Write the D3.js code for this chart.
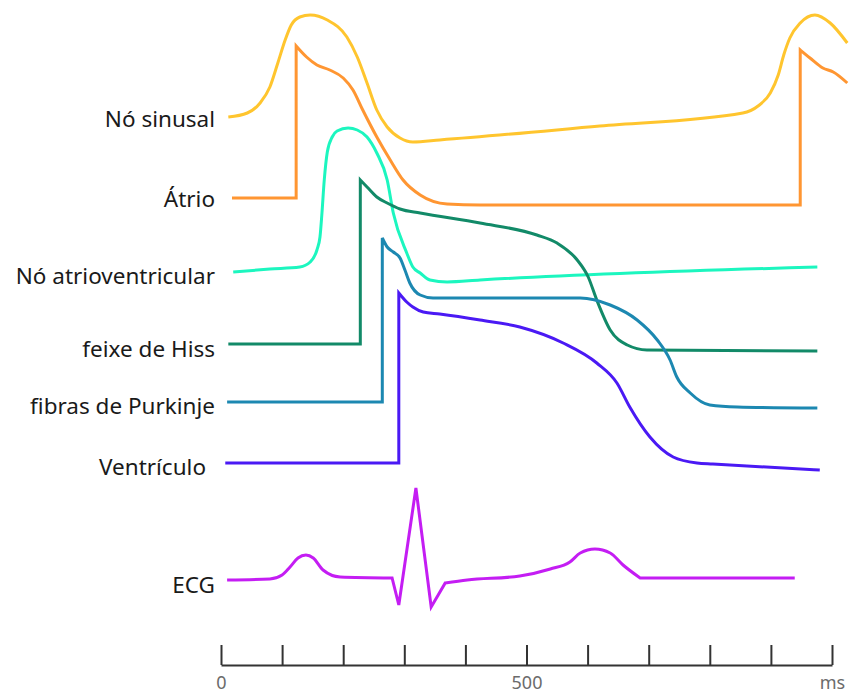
<!DOCTYPE html>
<html>
<head>
<meta charset="utf-8">
<script src="https://cdn.jsdelivr.net/npm/d3@7"></script>
<style>
  body { margin: 0; background: #fff; }
  .trace-label { font-family: 'Noto Sans', sans-serif; font-size: 22.5px; fill: #1a1a1a; }
  .time-axis text { font-family: 'Noto Sans', sans-serif; font-size: 18px; fill: #6b6b6b; }
  .time-axis path, .time-axis line { stroke: #333; stroke-width: 2; }
</style>
</head>
<body>
<svg id="chart"></svg>
<script>
// time in ms, level in arbitrary units (each trace sits on its own band)
const sinusal = [[12, 54.8], [43, 55.2], [64, 56.2], [80, 57.8], [93, 60.2], [105, 62.5], [115, 64], [129, 64.8],
  [146, 65], [174, 64.5], [206, 62.8], [223, 60.8], [239, 58.2], [255, 55.5], [272, 53.8], [293, 52.7], [314, 52.3],
  [358, 52.5], [620, 53.9], [854, 55.2], [879, 55.9], [899, 57.2], [912, 59], [921, 61], [931, 62.7], [948, 64.2],
  [972, 65], [997, 64.2], [1025, 62.2]];
const atrio = [[18, 46.7], [123, 46.7], [123, 61.9], [140, 60.8], [157, 60], [178, 59.5], [200, 58.7], [216, 57.5],
  [232, 55.5], [255, 52.8], [277, 50.5], [298, 48.5], [326, 47], [370, 46.1], [424, 46], [948, 46], [948, 61.5],
  [964, 60.7], [985, 59.7], [1002, 59.3], [1025, 58.2]];
const noAV = [[20, 39.3], [80, 39.6], [129, 39.8], [146, 40.3], [157, 41.5], [162, 42.8], [165, 45], [169, 48.5],
  [174, 51.3], [182, 52.8], [190, 53.4], [208, 53.7], [223, 53.5], [239, 52.8], [255, 51.2], [272, 48.5], [282, 45.2],
  [304, 41.2], [314, 39.8], [326, 39.2], [342, 38.5], [370, 38.3], [424, 38.5], [976, 39.8]];
const hiss = [[12, 32.1], [228, 32.1], [228, 48.5], [239, 47.8], [255, 46.8], [272, 46.2], [293, 45.6], [326, 45.2],
  [424, 44.2], [517, 43], [550, 42.2], [583, 40.5], [601, 38.8], [615, 36.5], [637, 33.5], [665, 32], [697, 31.5],
  [976, 31.4]];
const purkinje = [[10, 26.3], [264, 26.3], [264, 42.7], [272, 41.8], [282, 41.3], [293, 40.7], [301, 39.5], [309, 38.2],
  [326, 37], [347, 36.7], [588, 36.7], [637, 36], [681, 34.5], [714, 32.5], [735, 30.5], [746, 28.8], [768, 27.2],
  [800, 26], [845, 25.8], [976, 25.7]];
const ventriculo = [[7, 20.2], [291, 20.2], [291, 37.2], [304, 36.3], [314, 35.8], [331, 35.3], [358, 35.1], [424, 34.5],
  [489, 33.8], [560, 32.2], [615, 30.2], [648, 28.2], [669, 25.8], [702, 22.8], [740, 20.8], [779, 20.2], [805, 20.1],
  [980, 19.5]];
const ecg = [[10, 8.5], [80, 8.6], [100, 9], [113, 9.8], [126, 10.7], [139, 11], [151, 10.7], [167, 9.5], [195, 8.8],
  [280, 8.7], [291, 6], [319, 17.7], [344, 5.8], [367, 8.2], [403, 8.5], [489, 8.9], [539, 9.6], [571, 10.3],
  [588, 11.2], [612, 11.6], [637, 11.2], [658, 10], [686, 8.7], [939, 8.7]];

const traceNames = ['Nó sinusal', 'Átrio', 'Nó atrioventricular', 'feixe de Hiss', 'fibras de Purkinje', 'Ventrículo', 'ECG'];
const traceData = [sinusal, atrio, noAV, hiss, purkinje, ventriculo, ecg];
// indices where the trace has a sharp corner instead of a smooth bend
const traceCorners = [[], [1, 2, 15, 16], [], [1, 2], [1, 2], [1, 2], [9, 10, 11, 12, 13, 22]];
const labelLevels = [54.6, 46.6, 38.9, 31.6, 25.9, 19.8, 8];
const timeTicks = [0, 100, 200, 300, 400, 500, 600, 700, 800, 900, 1000];

const colors = ['#ffc52e', '#ff9632', '#1cf6bf', '#128a68', '#1c88b1', '#4a19f4', '#c41df3'];

const width = 851;
const height = 696;

const svg = d3.select('#chart')
  .attr('width', width)
  .attr('height', height);

const x = d3.scaleLinear().domain([0, 1000]).range([221, 832]);
const y = d3.scaleLinear().domain([0, 65]).range([665, 15]);

const line = d3.line()
  .x((d) => x(d[0]))
  .y((d) => y(d[1]))
  .curve(d3.curveMonotoneX);

const straight = d3.line()
  .x((d) => x(d[0]))
  .y((d) => y(d[1]));

// split a trace into pieces at its corners, straight pieces stay straight
function pieces(data, corners) {
  const cuts = [0, ...corners, data.length - 1];
  const out = [];
  for (let i = 0; i < cuts.length - 1; i += 1) {
    out.push(data.slice(cuts[i], cuts[i + 1] + 1));
  }
  return out;
}

traceData.forEach((data, i) => {
  const path = pieces(data, traceCorners[i])
    .map((p) => (p.length > 2 ? line(p) : straight(p)))
    .map((s, j) => (j === 0 ? s : s.replace(/^M/, 'L')))
    .join('');
  svg.append('path')
    .attr('d', path)
    .attr('fill', 'none')
    .attr('stroke', colors[i])
    .attr('stroke-width', 3)
    .attr('stroke-linejoin', 'miter')
    .attr('stroke-linecap', 'butt');
});

svg.selectAll('.trace-label')
  .data(traceNames)
  .join('text')
  .attr('class', 'trace-label')
  .attr('text-anchor', 'end')
  .attr('x', (d) => (d === 'Ventrículo' ? 206 : 215))
  .attr('y', (d, i) => y(labelLevels[i]))
  .attr('dy', '0.35em')
  .text((d) => d);

const axis = d3.axisBottom(x)
  .tickValues(timeTicks)
  .tickSizeInner(-20)
  .tickSizeOuter(0)
  .tickPadding(11)
  .tickFormat((d) => {
    if (d === 1000) return 'ms';
    return d % 500 === 0 ? d : '';
  });

svg.append('g')
  .attr('class', 'time-axis')
  .attr('transform', `translate(0,${y(0)})`)
  .call(axis);
</script>
</body>
</html>
